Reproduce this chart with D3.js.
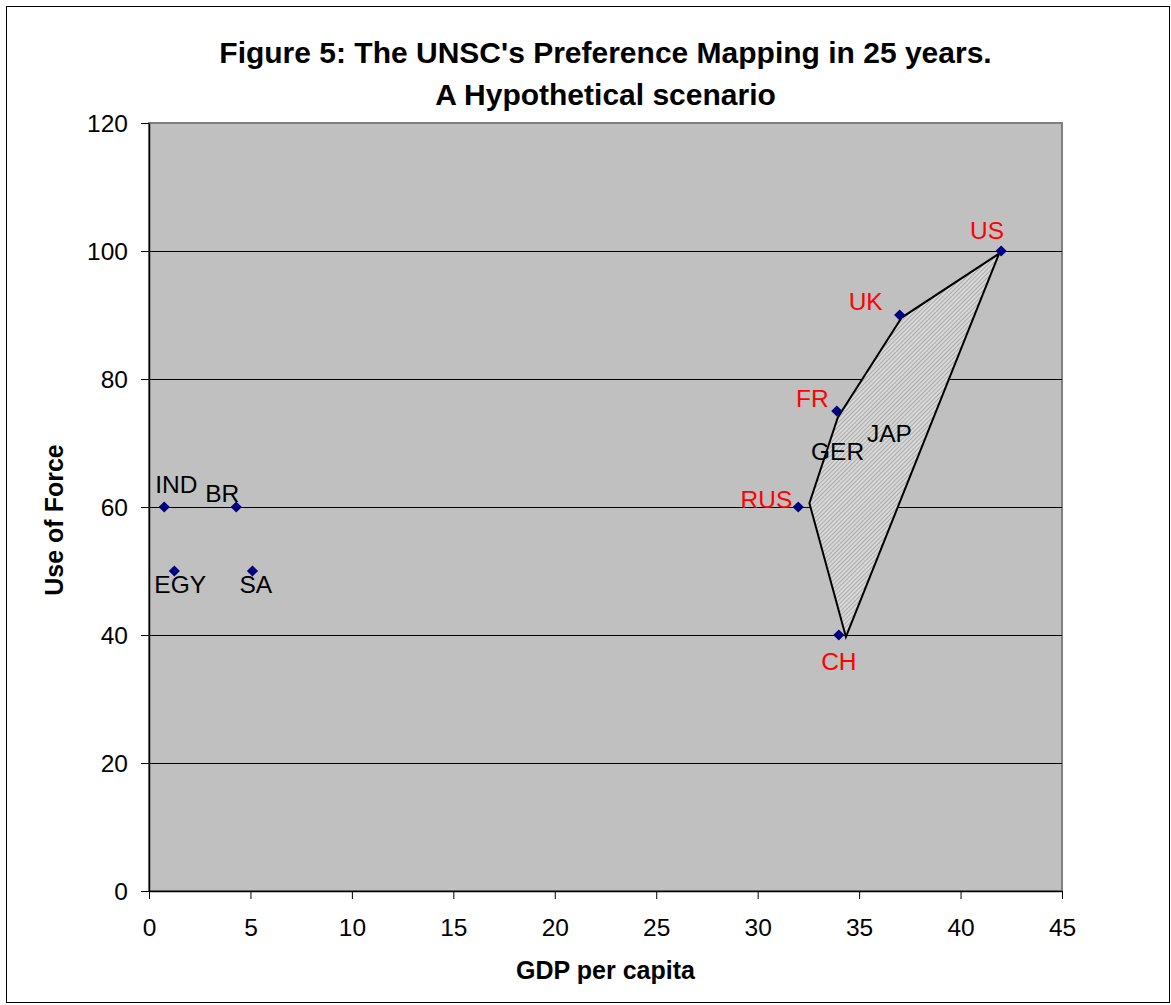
<!DOCTYPE html>
<html><head><meta charset="utf-8">
<script src="https://cdn.jsdelivr.net/npm/d3@7"></script>
<style>
html,body{margin:0;padding:0;background:#fff;}
text{font-family:"Liberation Sans",Arial,sans-serif;}
</style></head>
<body><svg id="chart" width="1171" height="1005"></svg>
<script>
// ---- data ----
const countries = ["IND","EGY","BR","SA","RUS","FR","CH","UK","US"];
const gdpPerCapita = [0.75, 1.25, 4.3, 5.1, 32.0, 33.9, 34.0, 37.0, 42.0];
const useOfForce = [60, 50, 60, 50, 60, 75, 40, 90, 100];
const permanentMember = [false,false,false,false,true,true,true,true,true];
const hullX = [41.9, 37.1, 33.95, 32.55, 34.35];
const hullY = [99.6, 89.6, 74.0, 60.6, 39.7];
const noteLabels = ["GER","JAP"];
const noteX = [32.63, 35.39];
const noteY = [67.3, 70.2];
const xTicks = [0,5,10,15,20,25,30,35,40,45];
const yTicks = [0,20,40,60,80,100,120];
const titleLines = ["Figure 5: The UNSC's Preference Mapping in 25 years.","A Hypothetical scenario"];
// label placement (dx, dy in px relative to marker, text-anchor)
const labelPlace = {
  IND:[-9,-14,"start"], EGY:[-20,22,"start"], BR:[-31,-5,"start"], SA:[-13,22,"start"],
  RUS:[-6,1,"end"], FR:[-8,-4,"end"], CH:[0,35,"middle"], UK:[-17,-5,"end"], US:[-14,-12,"middle"]
};

const svg = d3.select("#chart");
const L=149, R=1062, T=123, B=891;
const x = d3.scaleLinear().domain([0,45]).range([L,R]);
const y = d3.scaleLinear().domain([0,120]).range([B,T]);

// outer border
svg.append("rect").attr("x",6.5).attr("y",6.5).attr("width",1163).attr("height",996)
  .attr("fill","#fff").attr("stroke","#000").attr("stroke-width",1);

// pattern
const defs = svg.append("defs");
const pat = defs.append("pattern").attr("id","hatch").attr("patternUnits","userSpaceOnUse")
  .attr("width",3).attr("height",3).attr("patternTransform","rotate(45)");
pat.append("rect").attr("width",3).attr("height",3).attr("fill","#d8d8d8");
pat.append("rect").attr("width",1).attr("height",3).attr("fill","#ababab");

// plot area
svg.append("rect").attr("x",L).attr("y",T).attr("width",R-L).attr("height",B-T)
  .attr("fill","#c0c0c0").attr("stroke","#808080").attr("stroke-width",2);

// gridlines
svg.append("g").selectAll("line").data(yTicks.filter(d=>d>0 && d<120)).join("line")
  .attr("x1",L).attr("x2",R).attr("y1",d=>y(d)+0.5).attr("y2",d=>y(d)+0.5)
  .attr("stroke","#000").attr("stroke-width",1);

// axes
const gx = svg.append("g").attr("transform",`translate(0,${B})`)
  .call(d3.axisBottom(x).tickValues(xTicks).tickSize(8).tickPadding(20).tickSizeOuter(0));
const gy = svg.append("g").attr("transform",`translate(${L},0)`)
  .call(d3.axisLeft(y).tickValues(yTicks).tickSize(8).tickPadding(13).tickSizeOuter(0));
[gx,gy].forEach(g=>{
  g.select(".domain").attr("stroke","#000").attr("stroke-width",1.5);
  g.selectAll(".tick line").attr("stroke","#000");
  g.selectAll(".tick text").attr("font-size",24.5).attr("fill","#000")
    .style("font-family","'Liberation Sans',Arial,sans-serif");
});
gx.selectAll(".tick text").attr("dy","0.71em");
gy.selectAll(".tick text").attr("dy","0.36em");

// hull polygon
const hull = hullX.map((v,i)=>[x(v),y(hullY[i])]);
svg.append("path").attr("d",d3.line()(hull)+"Z")
  .attr("fill","url(#hatch)").attr("stroke","#000").attr("stroke-width",2).attr("stroke-linejoin","miter");

// markers
const pts = countries.map((c,i)=>({c,gx:gdpPerCapita[i],uf:useOfForce[i],p:permanentMember[i]}));
svg.append("g").selectAll("path").data(pts).join("path")
  .attr("d",d3.symbol().type(d3.symbolDiamond2).size(80))
  .attr("transform",d=>`translate(${x(d.gx)},${y(d.uf)})`)
  .attr("fill","#000080");

// labels
svg.append("g").selectAll("text").data(pts).join("text")
  .attr("x",d=>x(d.gx)+labelPlace[d.c][0])
  .attr("y",d=>y(d.uf)+labelPlace[d.c][1])
  .attr("text-anchor",d=>labelPlace[d.c][2])
  .attr("font-size",24.5)
  .attr("fill",d=>d.p?"#ff0000":"#000")
  .text(d=>d.c);

svg.append("g").selectAll("text").data(noteLabels).join("text")
  .attr("x",(d,i)=>x(noteX[i])).attr("y",(d,i)=>y(noteY[i]))
  .attr("font-size",24.5).attr("fill","#000").text(d=>d);

// titles
svg.append("g").selectAll("text").data(titleLines).join("text")
  .attr("x",(L+R)/2).attr("y",(d,i)=>63+i*42).attr("text-anchor","middle")
  .attr("font-size",30).attr("font-weight","bold").text(d=>d);
svg.append("text").attr("x",(L+R)/2).attr("y",979).attr("text-anchor","middle")
  .attr("font-size",25).attr("font-weight","bold").text("GDP per capita");
svg.append("text").attr("transform",`translate(63,520) rotate(-90)`).attr("text-anchor","middle")
  .attr("font-size",25).attr("font-weight","bold").text("Use of Force");
</script></body></html>
